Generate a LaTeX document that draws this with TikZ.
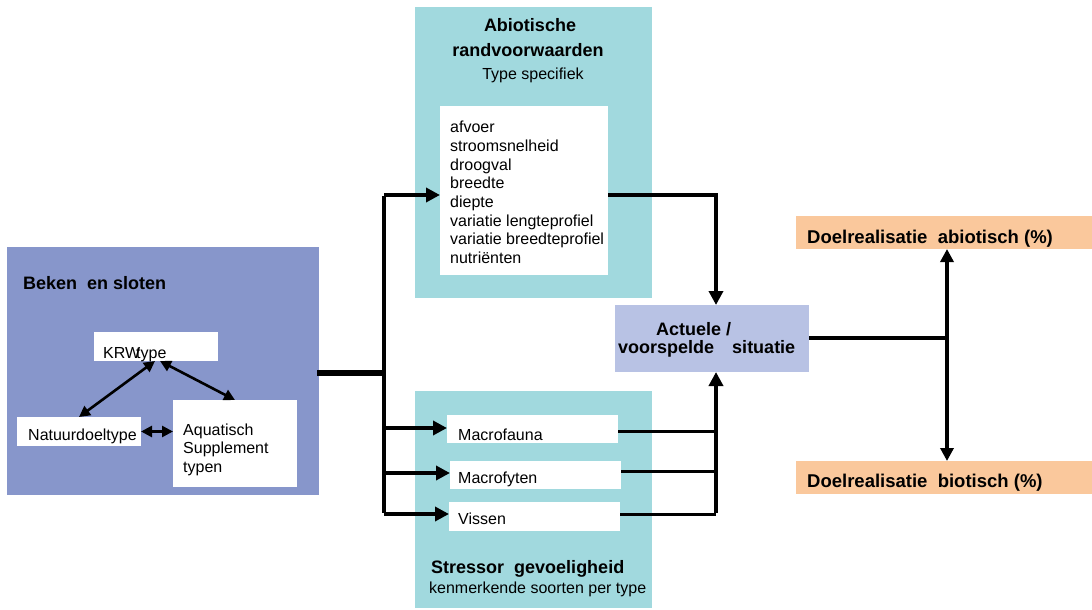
\documentclass[tikz,border=0pt]{standalone}
\usepackage{fontspec}
\setmainfont{Liberation Sans}
\usetikzlibrary{arrows.meta}
\definecolor{leftblue}{HTML}{8796CB}
\definecolor{teal}{HTML}{A1D9DE}
\definecolor{actblue}{HTML}{B8C2E4}
\definecolor{orange}{HTML}{FAC89C}
\begin{document}
\begin{tikzpicture}[x=1pt,y=-1pt,
  box/.style={draw=none, inner sep=0pt, outer sep=0pt, anchor=north west},
  txt/.style={inner sep=0pt, anchor=base west, font=\fontsize{16}{18.7}\selectfont},
  ttl/.style={inner sep=0pt, anchor=base west, font=\bfseries\fontsize{18}{22}\selectfont},
  conn/.style={line width=3.8pt},
  thin conn/.style={line width=3pt},
  arr/.style={conn, -{Triangle[length=14pt,width=14pt]}},
  darr/.style={line width=2.6pt, {Triangle[length=11pt,width=11pt]}-{Triangle[length=11pt,width=11pt]}},
  bigdarr/.style={conn, {Triangle[length=13pt,width=13pt]}-{Triangle[length=13pt,width=13pt]}}
]
\useasboundingbox (0,0) rectangle (1092,610);

% left box
\node[box, fill=leftblue, minimum width=312pt, minimum height=248pt] (beken) at (7,247) {};
\node[ttl] (bekent) at (23,289) {Beken\ \ en sloten};
\node[box, fill=white, minimum width=124pt, minimum height=29pt] (krw) at (94,332) {};
\node[txt] (krwt) at (103,358) {KRW\kern-4pt type};
\node[box, fill=white, minimum width=124pt, minimum height=29pt] (natuur) at (17,417) {};
\node[txt] (natuurt) at (28,440) {Natuurdoeltype};
\node[box, fill=white, minimum width=124pt, minimum height=87pt] (aqua) at (173,400) {};
\node[txt] (aqua1) at (183,435) {Aquatisch};
\node[txt] (aqua2) at (183,453) {Supplement};
\node[txt] (aqua3) at (183,472) {typen};
\draw[darr] ([xshift=-1pt]krw.south) -- (natuur.north);
\draw[darr] ([xshift=4pt]krw.south) -- (aqua.north);
\draw[darr] (natuur.east) -- (natuur.east -| aqua.west);

% top teal box
\node[box, fill=teal, minimum width=237pt, minimum height=291pt] (abio) at (415,7) {};
\node[inner sep=0pt, anchor=base, font=\bfseries\fontsize{18}{22}\selectfont] (abio1) at (530,32) {Abiotische};
\node[inner sep=0pt, anchor=base, font=\bfseries\fontsize{18}{22}\selectfont] (abio2) at (528,57) {randvoorwaarden};
\node[inner sep=0pt, anchor=base, font=\fontsize{16}{19}\selectfont] (abio3) at (533,79) {Type specifiek};
\node[box, fill=white, minimum width=168pt, minimum height=169pt] (abiolist) at (440,106) {};
\node[txt] (l1) at (450,132) {afvoer};
\node[txt] (l2) at (450,151) {stroomsnelheid};
\node[txt] (l3) at (450,170) {droogval};
\node[txt] (l4) at (450,188) {breedte};
\node[txt] (l5) at (450,207) {diepte};
\node[txt] (l6) at (450,226) {variatie lengteprofiel};
\node[txt] (l7) at (450,244) {variatie breedteprofiel};
\node[txt] (l8) at (450,263) {nutriënten};

% bottom teal box
\node[box, fill=teal, minimum width=237pt, minimum height=217pt] (stress) at (415,391) {};
\node[box, fill=white, minimum width=171pt, minimum height=28pt] (mfauna) at (447,415) {};
\node[txt] (mfaunat) at (458,440) {Macrofauna};
\node[box, fill=white, minimum width=171pt, minimum height=28pt] (mfyten) at (450,461) {};
\node[txt] (mfytent) at (458,483) {Macrofyten};
\node[box, fill=white, minimum width=171pt, minimum height=29pt] (vissen) at (449,502) {};
\node[txt] (vissent) at (458,524) {Vissen};
\node[ttl] (stress1) at (431,573) {Stressor\ \ gevoeligheid};
\node[txt] (stress2) at (429,593) {kenmerkende soorten per type};

% actuele box
\node[box, fill=actblue, minimum width=194pt, minimum height=67pt] (act) at (615,305) {};
\node[ttl] (act1) at (656,335) {Actuele /};
\node[ttl] (act2) at (618,353) {voorspelde\hspace{18pt}situatie};

% orange boxes
\node[box, fill=orange, minimum width=296pt, minimum height=33pt] (doelab) at (796,216) {};
\node[ttl, font=\bfseries\fontsize{18.5}{22}\selectfont] (doelabt) at (807,243) {Doelrealisatie\ \ abiotisch\ (\%)};
\node[box, fill=orange, minimum width=296pt, minimum height=33pt] (doelbi) at (796,461) {};
\node[ttl, font=\bfseries\fontsize{18.5}{22}\selectfont] (doelbit) at (807,487) {Doelrealisatie\ \ biotisch\ (\%)};

% connectors
\coordinate (split) at (384,373);
\coordinate (vtop) at (384,195);
\coordinate (vbot) at (384,514);
\coordinate (cA) at (716,195);
\coordinate (cB) at (947,338);
\draw[line width=5.5pt] ([xshift=-2pt]beken.east |- split) -- (split);
\draw[conn] ([yshift=-1pt]vtop) -- ([yshift=1pt]vbot);
\draw[arr] (vtop) -- (abiolist.west |- vtop);
\draw[arr] (vbot |- 0,428) -- (mfauna.west |- 0,428);
\draw[arr] (vbot |- 0,473) -- (mfyten.west |- 0,473);
\draw[arr] (vbot) -- (vissen.west |- vbot);
\draw[arr] (abiolist.east |- cA) -- (cA) -- (cA |- act.north);
\draw[thin conn] (mfauna.east |- 0,431) -- (cA |- 0,431);
\draw[thin conn] (mfyten.east |- 0,471) -- (cA |- 0,471);
\draw[thin conn] (vissen.east |- vbot) -- (cA |- vbot);
\draw[arr] ([yshift=1pt]cA |- vbot) -- (cA |- act.south);
\draw[conn] (act.east |- cB) -- ([xshift=1.9pt]cB);
\draw[bigdarr] (cB |- doelab.south) -- (cB |- doelbi.north);
\end{tikzpicture}
\end{document}
